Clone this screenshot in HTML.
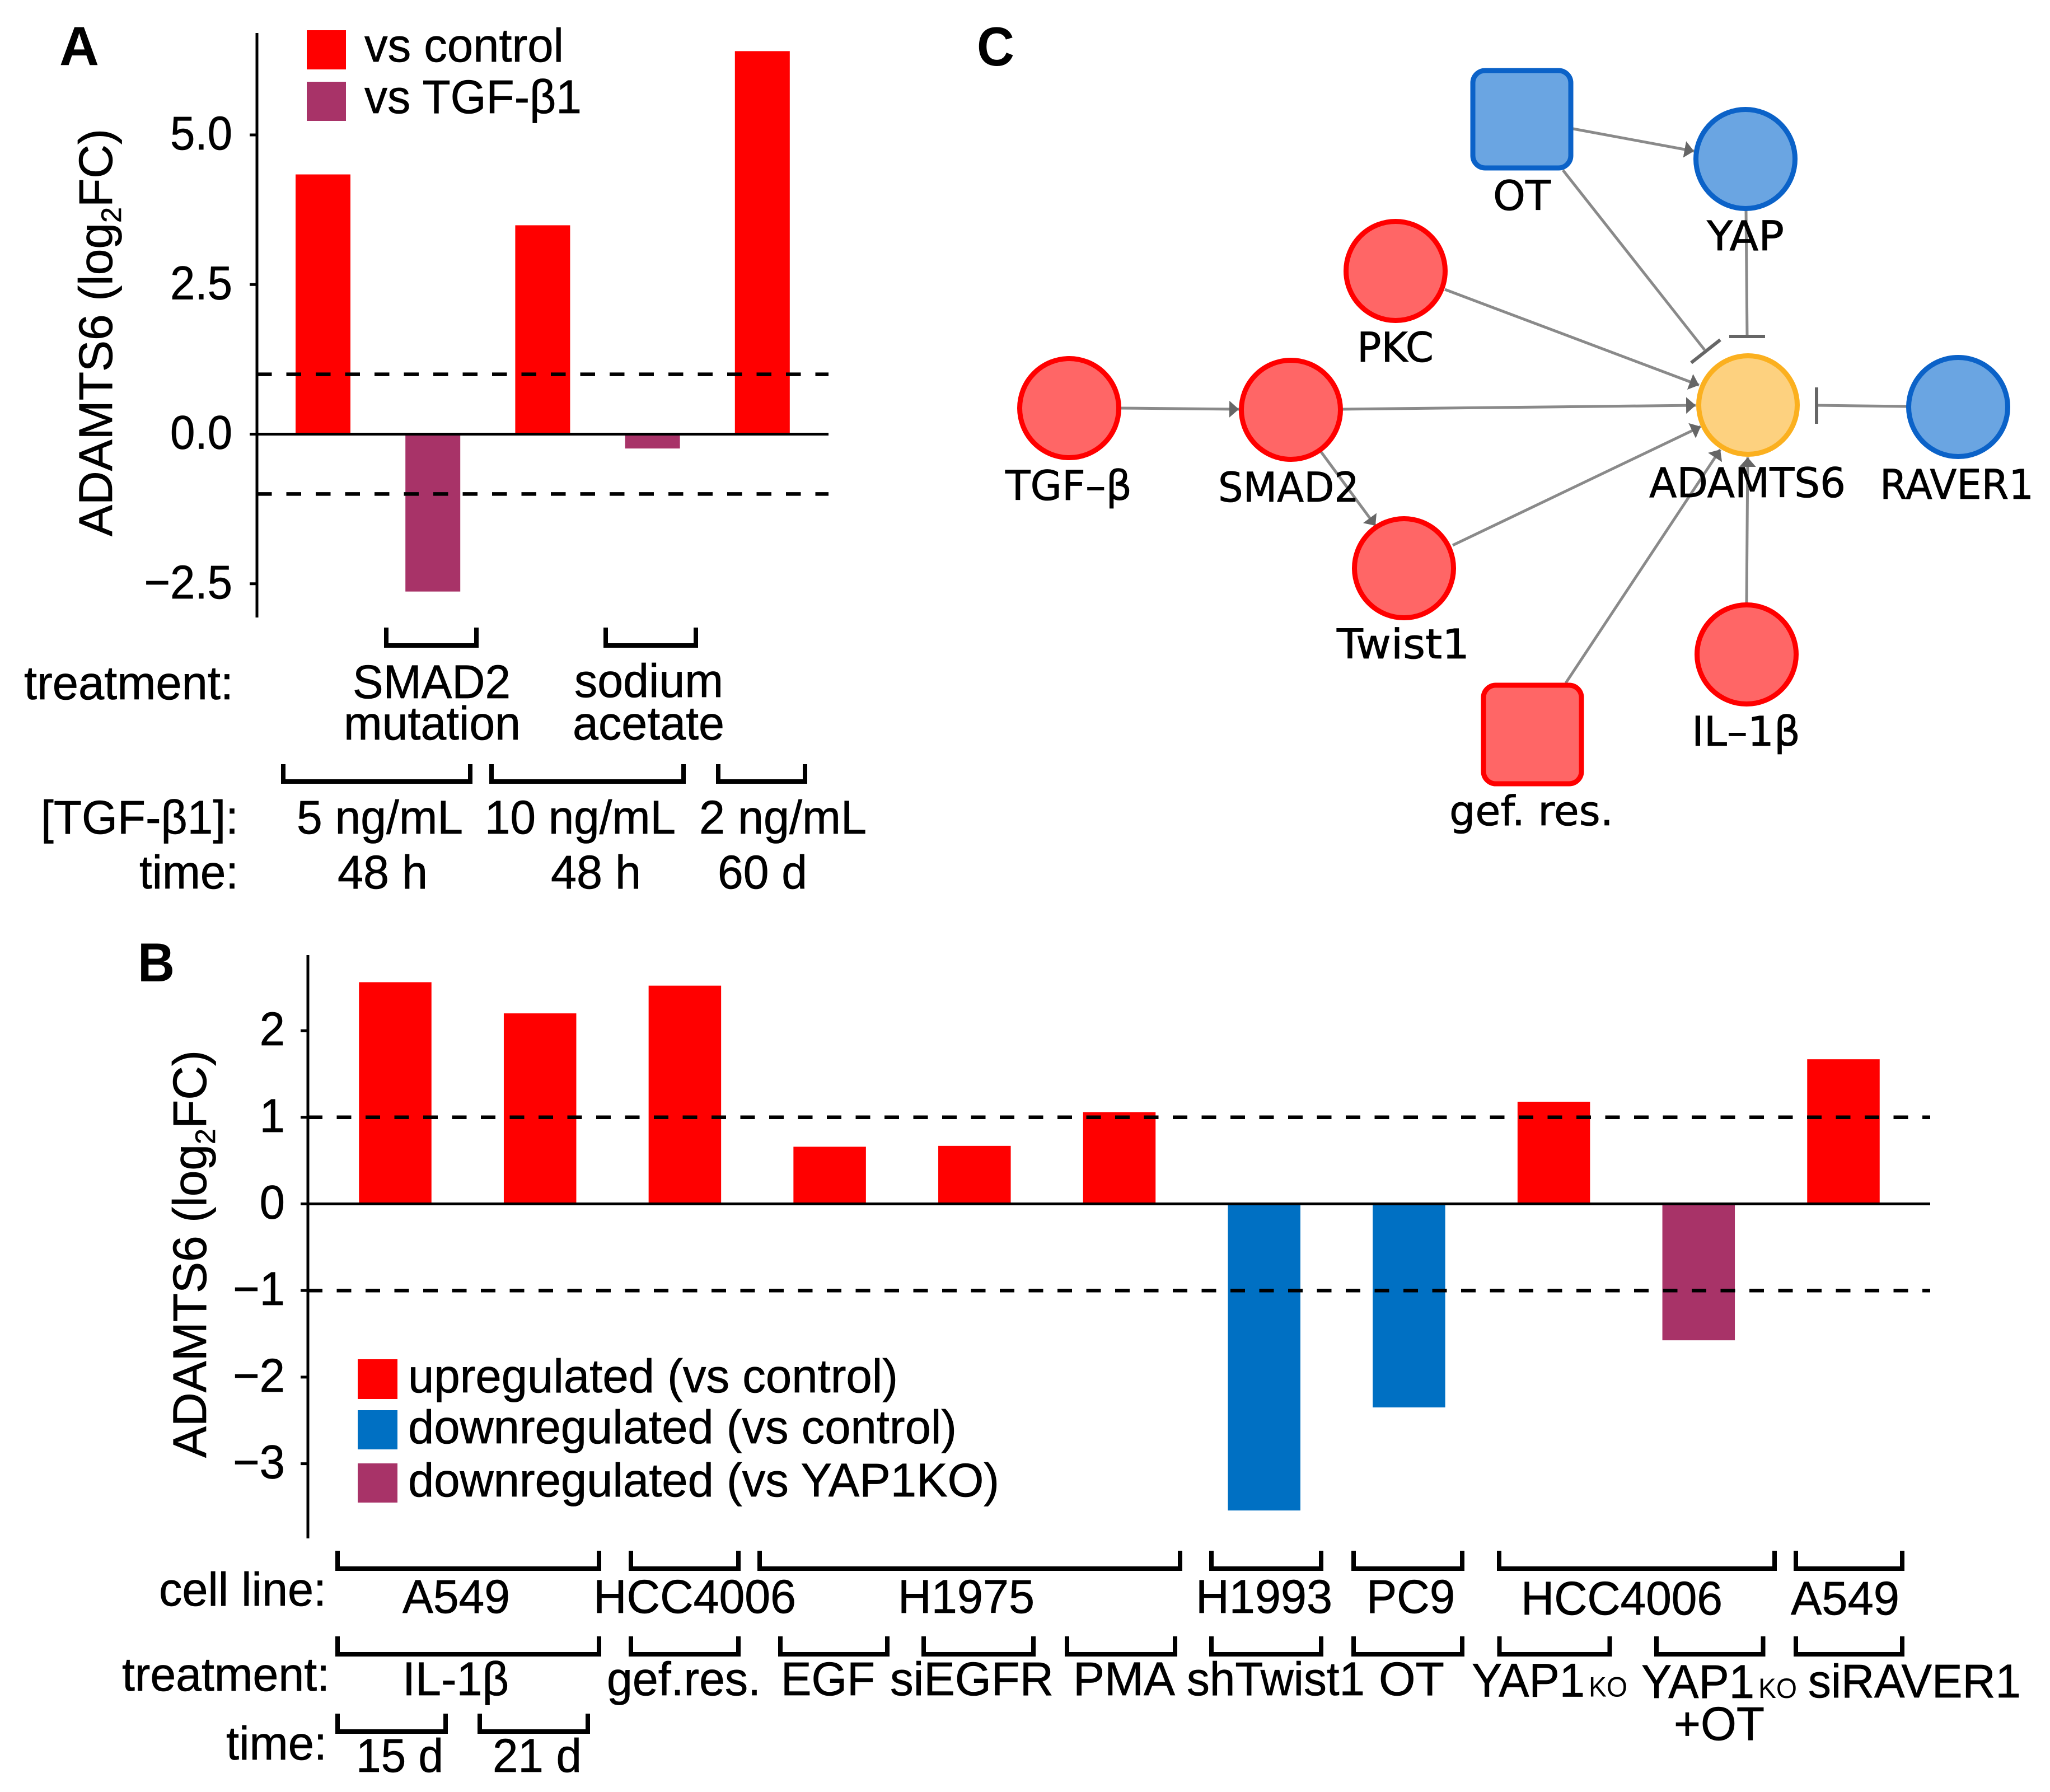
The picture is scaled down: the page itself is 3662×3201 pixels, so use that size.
<!DOCTYPE html>
<html lang="en">
<head>
<meta charset="utf-8">
<title>ADAMTS6 expression panels</title>
<style>
html,body{margin:0;padding:0;background:#fff;}
svg{display:block;}
text{font-family:"Liberation Sans",sans-serif;fill:#000;}
.net text{font-family:"DejaVu Sans",sans-serif;stroke:#000;stroke-width:.8;}
.lab{font-size:84px;stroke:#000;stroke-width:.7;}
.b{font-weight:bold;font-size:98px;}
.edge{stroke:#8a8a8a;stroke-width:5;fill:none;}
.bar{stroke:#666;stroke-width:6;fill:none;}
.br{stroke:#000;stroke-width:8;fill:none;}
.red{fill:#FF6666;stroke:#FF0000;stroke-width:9;}
.blue{fill:#6AA5E2;stroke:#0B62C8;stroke-width:9;}
</style>
</head>
<body>
<svg id="fig" xmlns="http://www.w3.org/2000/svg" width="3662" height="3201" viewBox="0 0 3662 3201">
<defs>
<marker id="arr" markerUnits="userSpaceOnUse" markerWidth="18" markerHeight="32" refX="17" refY="15" orient="auto"><path d="M0,0 L17,15 L0,30 Z" fill="#666"/></marker>
</defs>
<rect width="3662" height="3201" fill="#fff"/>

<!-- Panel A static -->
<g>
<text class="b" x="106" y="116.5" textLength="71" lengthAdjust="spacingAndGlyphs">A</text>
<g id="plotA"></g>
<text class="lab" transform="translate(200,958) rotate(-90)">ADAMTS6 (log<tspan font-size="50" dy="16">2</tspan><tspan dy="-16">FC)</tspan></text>
<g>
<rect x="548" y="54" width="70" height="70" fill="#FF0000"/>
<text class="lab" x="651" y="110" textLength="356" lengthAdjust="spacingAndGlyphs">vs control</text>
<rect x="548" y="146" width="70" height="70" fill="#A83368"/>
<text class="lab" x="651" y="202" textLength="388" lengthAdjust="spacingAndGlyphs">vs TGF-β1</text>
</g>
<path class="br" d="M690,1121V1153H851V1121"/>
<path class="br" d="M1082,1121V1153H1243V1121"/>
<path class="br" d="M506,1365V1396H840V1365"/>
<path class="br" d="M878,1365V1396H1221V1365"/>
<path class="br" d="M1283,1365V1396H1438V1365"/>
<text class="lab" x="43" y="1249" textLength="374" lengthAdjust="spacingAndGlyphs">treatment:</text>
<text class="lab" x="630" y="1247" textLength="282" lengthAdjust="spacingAndGlyphs">SMAD2</text>
<text class="lab" x="614" y="1321" textLength="316" lengthAdjust="spacingAndGlyphs">mutation</text>
<text class="lab" x="1026" y="1245" textLength="266" lengthAdjust="spacingAndGlyphs">sodium</text>
<text class="lab" x="1023" y="1321" textLength="271" lengthAdjust="spacingAndGlyphs">acetate</text>
<text class="lab" x="73" y="1489" textLength="353" lengthAdjust="spacingAndGlyphs">[TGF-β1]:</text>
<text class="lab" x="530" y="1489" textLength="297" lengthAdjust="spacingAndGlyphs">5 ng/mL</text>
<text class="lab" x="866" y="1489" textLength="341" lengthAdjust="spacingAndGlyphs">10 ng/mL</text>
<text class="lab" x="1249" y="1489" textLength="299" lengthAdjust="spacingAndGlyphs">2 ng/mL</text>
<text class="lab" x="249" y="1587" textLength="177" lengthAdjust="spacingAndGlyphs">time:</text>
<text class="lab" x="603" y="1587" textLength="161" lengthAdjust="spacingAndGlyphs">48 h</text>
<text class="lab" x="984" y="1587" textLength="161" lengthAdjust="spacingAndGlyphs">48 h</text>
<text class="lab" x="1282" y="1587" textLength="160" lengthAdjust="spacingAndGlyphs">60 d</text>
</g>

<!-- Panel B static -->
<g>
<text class="b" x="246" y="1753" textLength="66" lengthAdjust="spacingAndGlyphs">B</text>
<g id="plotB"></g>
<text class="lab" transform="translate(368,2604) rotate(-90)">ADAMTS6 (log<tspan font-size="50" dy="16">2</tspan><tspan dy="-16">FC)</tspan></text>
<g>
<rect x="639" y="2428" width="71" height="71" fill="#FF0000"/>
<text class="lab" x="729" y="2487" textLength="875" lengthAdjust="spacingAndGlyphs">upregulated (vs control)</text>
<rect x="639" y="2519" width="71" height="70" fill="#0070C3"/>
<text class="lab" x="729" y="2578" textLength="980" lengthAdjust="spacingAndGlyphs">downregulated (vs control)</text>
<rect x="639" y="2614" width="71" height="70" fill="#A83368"/>
<text class="lab" x="729" y="2673" textLength="1056" lengthAdjust="spacingAndGlyphs">downregulated (vs YAP1KO)</text>
</g>
<g>
<path class="br" d="M603,2770V2802H1070V2770"/>
<path class="br" d="M1127,2770V2802H1319V2770"/>
<path class="br" d="M1357,2770V2802H2108V2770"/>
<path class="br" d="M2164,2770V2802H2360V2770"/>
<path class="br" d="M2418,2770V2802H2612V2770"/>
<path class="br" d="M2678,2770V2802H3170V2770"/>
<path class="br" d="M3208,2770V2802H3398V2770"/>
</g>
<g>
<path class="br" d="M603,2923V2955H1070V2923"/>
<path class="br" d="M1127,2923V2955H1319V2923"/>
<path class="br" d="M1394,2923V2955H1585V2923"/>
<path class="br" d="M1650,2923V2955H1846V2923"/>
<path class="br" d="M1906,2923V2955H2099V2923"/>
<path class="br" d="M2164,2923V2955H2360V2923"/>
<path class="br" d="M2418,2923V2955H2612V2923"/>
<path class="br" d="M2678.5,2923V2955H2875.5V2923"/>
<path class="br" d="M2959,2923V2955H3149.5V2923"/>
<path class="br" d="M3208,2923V2955H3398V2923"/>
</g>
<path class="br" d="M603,3061V3093H796V3061"/>
<path class="br" d="M857,3061V3093H1050V3061"/>
<text class="lab" x="284" y="2868" textLength="299" lengthAdjust="spacingAndGlyphs">cell line:</text>
<text class="lab" x="719" y="2881" textLength="192" lengthAdjust="spacingAndGlyphs">A549</text>
<text class="lab" x="1060" y="2881" textLength="362" lengthAdjust="spacingAndGlyphs">HCC4006</text>
<text class="lab" x="1604" y="2881" textLength="244" lengthAdjust="spacingAndGlyphs">H1975</text>
<text class="lab" x="2136" y="2881" textLength="244" lengthAdjust="spacingAndGlyphs">H1993</text>
<text class="lab" x="2441" y="2881" textLength="158" lengthAdjust="spacingAndGlyphs">PC9</text>
<text class="lab" x="2717" y="2884" textLength="360" lengthAdjust="spacingAndGlyphs">HCC4006</text>
<text class="lab" x="3199" y="2884" textLength="194" lengthAdjust="spacingAndGlyphs">A549</text>
<text class="lab" x="218" y="3020" textLength="371" lengthAdjust="spacingAndGlyphs">treatment:</text>
<text class="lab" x="719" y="3028" textLength="190" lengthAdjust="spacingAndGlyphs">IL-1β</text>
<text class="lab" x="1084" y="3028" textLength="275" lengthAdjust="spacingAndGlyphs">gef.res.</text>
<text class="lab" x="1395" y="3028" textLength="168" lengthAdjust="spacingAndGlyphs">EGF</text>
<text class="lab" x="1590" y="3028" textLength="292" lengthAdjust="spacingAndGlyphs">siEGFR</text>
<text class="lab" x="1917" y="3028" textLength="182" lengthAdjust="spacingAndGlyphs">PMA</text>
<text class="lab" x="2120" y="3028" textLength="318" lengthAdjust="spacingAndGlyphs">shTwist1</text>
<text class="lab" x="2463" y="3028" textLength="117" lengthAdjust="spacingAndGlyphs">OT</text>
<text class="lab" x="2629" y="3030.5" textLength="202" lengthAdjust="spacingAndGlyphs">YAP1</text>
<text font-size="50" x="2838" y="3030.5" textLength="69" lengthAdjust="spacingAndGlyphs">KO</text>
<text class="lab" x="2932" y="3033" textLength="202" lengthAdjust="spacingAndGlyphs">YAP1</text>
<text font-size="50" x="3141" y="3033" textLength="69" lengthAdjust="spacingAndGlyphs">KO</text>
<text class="lab" x="2990" y="3108" textLength="162" lengthAdjust="spacingAndGlyphs">+OT</text>
<text class="lab" x="3230" y="3032" textLength="380" lengthAdjust="spacingAndGlyphs">siRAVER1</text>
<text class="lab" x="404" y="3143" textLength="180" lengthAdjust="spacingAndGlyphs">time:</text>
<text class="lab" x="636" y="3165" textLength="156" lengthAdjust="spacingAndGlyphs">15 d</text>
<text class="lab" x="880" y="3165" textLength="159" lengthAdjust="spacingAndGlyphs">21 d</text>
</g>

<!-- Panel C network -->
<g class="net">
<text class="b" style="font-family:'Liberation Sans',sans-serif;stroke:none" x="1745" y="117" textLength="67" lengthAdjust="spacingAndGlyphs">C</text>
<g>
<path class="edge" marker-end="url(#arr)" d="M2000,729L2213,731"/>
<path class="edge" marker-end="url(#arr)" d="M2396,731L3029,724"/>
<path class="edge" marker-end="url(#arr)" d="M2359,806L2457,939"/>
<path class="edge" marker-end="url(#arr)" d="M2595,974L3038,762"/>
<path class="edge" marker-end="url(#arr)" d="M2581,517L3035,688"/>
<path class="edge" marker-end="url(#arr)" d="M2810,230L3026,270"/>
<path class="edge" marker-end="url(#arr)" d="M2797,1220L3073,803"/>
<path class="edge" marker-end="url(#arr)" d="M3120,1077L3122,817"/>
<path class="edge" d="M2792,304L3045,625"/>
<path class="bar" d="M3021,648L3073,607"/>
<path class="edge" d="M3119,375L3121,601"/>
<path class="bar" d="M3089,601H3153"/>
<path class="edge" d="M3408,726L3245,724"/>
<path class="bar" d="M3245,692V757"/>
</g>
<rect class="blue" x="2631" y="126" width="175" height="174" rx="22"/>
<circle class="blue" cx="3118" cy="284" r="88.5"/>
<circle class="red" cx="2493" cy="484" r="88.5"/>
<circle class="red" cx="1910" cy="729" r="88.5"/>
<circle class="red" cx="2306" cy="732" r="88.5"/>
<circle class="red" cx="2508" cy="1015" r="88.5"/>
<circle cx="3122.5" cy="723.5" r="88" fill="#FDD17F" stroke="#FBB01F" stroke-width="9" style="stroke:#FBB01F"/>
<circle class="blue" cx="3498" cy="727" r="88.5"/>
<circle class="red" cx="3120" cy="1169" r="88.5"/>
<rect class="red" x="2650" y="1224" width="175" height="176" rx="22"/>
<text font-size="73" x="2667" y="375" textLength="103" lengthAdjust="spacingAndGlyphs">OT</text>
<text font-size="73" x="3049" y="447" textLength="138" lengthAdjust="spacingAndGlyphs">YAP</text>
<text font-size="73" x="2424" y="646" textLength="137" lengthAdjust="spacingAndGlyphs">PKC</text>
<text font-size="73" x="1796" y="893" textLength="226" lengthAdjust="spacingAndGlyphs">TGF–β</text>
<text font-size="73" x="2176" y="896" textLength="252" lengthAdjust="spacingAndGlyphs">SMAD2</text>
<text font-size="73" x="2946" y="888" textLength="351" lengthAdjust="spacingAndGlyphs">ADAMTS6</text>
<text font-size="73" x="3358" y="891" textLength="275" lengthAdjust="spacingAndGlyphs">RAVER1</text>
<text font-size="73" x="2388" y="1176" textLength="237" lengthAdjust="spacingAndGlyphs">Twist1</text>
<text font-size="73" x="3022" y="1332" textLength="194" lengthAdjust="spacingAndGlyphs">IL–1β</text>
<text font-size="73" x="2589" y="1474" textLength="293" lengthAdjust="spacingAndGlyphs">gef. res.</text>
</g>
</svg>
<script>
var panelACategories = ['TGF-b1 5 ng/mL 48 h', 'SMAD2 mutation', 'TGF-b1 10 ng/mL 48 h', 'sodium acetate', 'TGF-b1 2 ng/mL 60 d'];
var panelAValues = [4.34, -2.63, 3.49, -0.24, 6.40];
var panelASeries = ['control', 'tgf', 'control', 'tgf', 'control'];
var panelATicks = [5, 2.5, 0, -2.5];
var panelATickLabels = ['5.0', '2.5', '0.0', '−2.5'];

var panelBCategories = ['IL-1b 15 d', 'IL-1b 21 d', 'gef.res.', 'EGF', 'siEGFR', 'PMA', 'shTwist1', 'OT', 'YAP1KO', 'YAP1KO+OT', 'siRAVER1'];
var panelBValues = [2.56, 2.20, 2.52, 0.66, 0.67, 1.06, -3.54, -2.35, 1.18, -1.575, 1.67];
var panelBSeries = ['up', 'up', 'up', 'up', 'up', 'up', 'down', 'down', 'up', 'yap', 'up'];
var panelBTicks = [2, 1, 0, -1, -2, -3];
var panelBTickLabels = ['2', '1', '0', '−1', '−2', '−3'];

var thresholds = [1, -1];

var NS = 'http://www.w3.org/2000/svg';
var seriesColors = {control: '#FF0000', tgf: '#A83368', up: '#FF0000', down: '#0070C3', yap: '#A83368'};

function yScaleA(v) { return 775.5 - v * 106.9; }
function xScaleA(i) { return 577 + i * 196.2; }
function yScaleB(v) { return 2150.5 - v * 154.7; }
function xScaleB(i) { return 706 + i * 258.7; }

function makeEl(tag, parent) {
  var el = document.createElementNS(NS, tag);
  parent.appendChild(el);
  return el;
}
function setAttrs(el, map) {
  for (var k in map) { el.setAttribute(k, map[k]); }
}

function drawPanel(cfg) {
  var g = document.getElementById(cfg.id);
  cfg.values.forEach(function (v, i) {
    var bar = makeEl('rect', g);
    
    
    var y0 = cfg.y(0), yv = cfg.y(v);
    setAttrs(bar, {x: cfg.x(i) - cfg.barW / 2, width: cfg.barW, y: Math.min(y0, yv), height: Math.abs(yv - y0), fill: seriesColors[cfg.series[i]]});
    var title = makeEl('title', bar);
    title.textContent = cfg.cats[i] + ': ' + v;
  });
  thresholds.forEach(function (t) {
    var dash = makeEl('line', g);
    
    
    setAttrs(dash, {x1: cfg.axisX, x2: cfg.right, y1: cfg.y(t), y2: cfg.y(t), stroke: '#000', 'stroke-width': 6.5, 'stroke-dasharray': cfg.dash});
  });
  var zero = makeEl('line', g);
  
  
  setAttrs(zero, {x1: cfg.axisX, x2: cfg.right, y1: cfg.y(0), y2: cfg.y(0), stroke: '#000', 'stroke-width': 5});
  var axis = makeEl('line', g);
  
  
  setAttrs(axis, {x1: cfg.axisX, x2: cfg.axisX, y1: cfg.top, y2: cfg.bottom, stroke: '#000', 'stroke-width': 5});
  cfg.ticks.forEach(function (t, i) {
    var tick = makeEl('line', g);
    
    
    setAttrs(tick, {x1: cfg.axisX - 13, x2: cfg.axisX, y1: cfg.y(t), y2: cfg.y(t), stroke: '#000', 'stroke-width': 5});
    var lab = makeEl('text', g);
    
    
    setAttrs(lab, {x: cfg.labelX, y: cfg.y(t) + cfg.labelDy, 'text-anchor': 'end', 'font-size': cfg.labelSize, stroke: '#000', 'stroke-width': 0.7});
    lab.textContent = cfg.tickLabels[i];
    lab.setAttribute('textLength', lab.getComputedTextLength() * cfg.labelFit);
    lab.setAttribute('lengthAdjust', 'spacingAndGlyphs');
  });
}

drawPanel({id: 'plotA', values: panelAValues, series: panelASeries, cats: panelACategories, ticks: panelATicks, tickLabels: panelATickLabels,
  x: xScaleA, y: yScaleA, barW: 98, axisX: 459, right: 1480, top: 59, bottom: 1103, labelX: 415, labelDy: 26, labelSize: 84, labelFit: 0.95, dash: '26.5 26'});
drawPanel({id: 'plotB', values: panelBValues, series: panelBSeries, cats: panelBCategories, ticks: panelBTicks, tickLabels: panelBTickLabels,
  x: xScaleB, y: yScaleB, barW: 129.5, axisX: 550, right: 3448, top: 1706, bottom: 2748, labelX: 509, labelDy: 26, labelSize: 84, labelFit: 0.97, dash: '26 25.5'});
</script>
</body>
</html>
